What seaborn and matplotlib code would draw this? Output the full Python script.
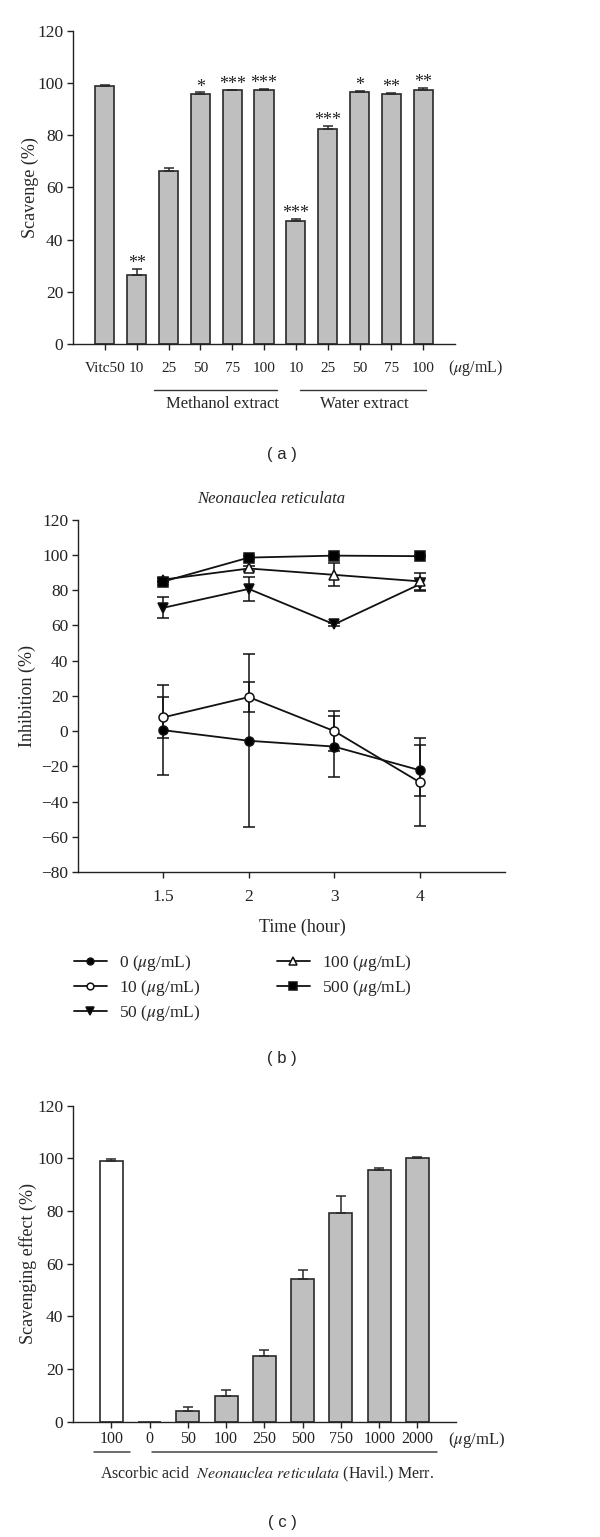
import numpy as np
import pandas as pd
import seaborn as sns
import matplotlib
matplotlib.use("Agg")
import matplotlib.pyplot as plt

# ---------------- data ----------------
# panel (a)
a_groups = ["Vitc"] + ["Methanol"] * 5 + ["Water"] * 5
a_doses = ["Vitc50", "10", "25", "50", "75", "100", "10", "25", "50", "75", "100"]
a_values = [98.8, 26.5, 66.2, 95.9, 97.2, 97.2, 47.2, 82.5, 96.6, 95.9, 97.5]
a_errors = [0.3, 2.4, 1.1, 0.5, 0.3, 0.4, 0.7, 1.0, 0.3, 0.3, 0.6]
a_stars = ["", "**", "", "*", "***", "***", "***", "***", "*", "**", "**"]

# panel (b)
b_times = ["1.5", "2", "3", "4"]
b_series = ["0 ($\\mu$g/mL)", "10 ($\\mu$g/mL)", "50 ($\\mu$g/mL)",
            "100 ($\\mu$g/mL)", "500 ($\\mu$g/mL)"]
b_0 = [0.5, -5.5, -8.8, -22.2]
b_0_err = [25.5, 49.0, 17.4, 14.5]
b_10 = [7.8, 19.3, 0.0, -29.0]
b_10_err = [11.8, 8.5, 11.5, 25.0]
b_50 = [70.0, 80.7, 60.6, 83.3]
b_50_err = [6.0, 6.7, 1.0, 3.5]
b_100 = [86.0, 92.3, 88.7, 85.0]
b_100_err = [1.0, 1.2, 6.5, 5.0]
b_500 = [84.9, 98.5, 99.6, 99.3]
b_500_err = [0.5, 0.8, 0.5, 0.5]

# panel (c)
c_groups = ["Ascorbic acid"] + ["NR"] * 8
c_doses = ["100", "0", "50", "100", "250", "500", "750", "1000", "2000"]
c_values = [99.1, 0.0, 4.1, 9.9, 25.1, 54.3, 79.4, 95.4, 100.3]
c_errors = [0.6, 0.0, 1.4, 2.1, 2.0, 3.3, 6.3, 1.0, 0.4]

# ---------------- style ----------------
sns.set_theme(style="ticks")
plt.rcParams["font.family"] = ["Liberation Serif", "DejaVu Serif"]
plt.rcParams["mathtext.fontset"] = "stix"
plt.rcParams["axes.linewidth"] = 1.0

GREY = "#bfbfbf"
EDGE = "#2a2a2a"

fig = plt.figure(figsize=(6.0, 15.37), dpi=100)
H = 1537.0
W = 600.0


def style_axis(ax, labelsize=12.5):
    sns.despine(ax=ax)
    ax.tick_params(direction="out", length=4, width=1.0, labelsize=labelsize,
                   colors="#222222", pad=3)
    for s in ax.spines.values():
        s.set_color("#222222")


# ---------------- panel (a) ----------------
ax_a = fig.add_axes([73 / W, 1 - 344 / H, 382 / W, 313.2 / H])
df_a = pd.DataFrame({
    "key": [g + d for g, d in zip(a_groups, a_doses)],
    "dose": a_doses, "value": a_values, "err": a_errors,
})
sns.barplot(data=df_a, x="key", y="value", order=list(df_a["key"]),
            color=GREY, edgecolor=EDGE, linewidth=1.2, width=0.6,
            errorbar=None, ax=ax_a, saturation=1)
xa = np.arange(len(df_a))
ax_a.errorbar(xa, df_a["value"], yerr=[np.zeros(len(xa)), df_a["err"]],
              fmt="none", ecolor=EDGE, elinewidth=1.1, capsize=3.5, capthick=1.1)
for i, (v, e, s) in enumerate(zip(a_values, a_errors, a_stars)):
    if s:
        ax_a.text(i, v + e - 1.2, s, ha="center", va="bottom", fontsize=13,
                  color="#222222")
ax_a.set_xlim(-1, 11)
ax_a.set_ylim(0, 120)
ax_a.set_yticks(np.arange(0, 121, 20))
ax_a.set_xticks(xa)
ax_a.set_xticklabels(a_doses)
ax_a.set_xlabel("")
ax_a.set_ylabel("Scavenge (%)", fontsize=13)
ax_a.yaxis.set_label_coords(-0.088, 0.5)
style_axis(ax_a, 12.5)
ax_a.tick_params(axis="x", labelsize=11, pad=9)
tr = ax_a.get_xaxis_transform()
ax_a.text(11.63, -0.077, "($\\mu$g/mL)", transform=tr, ha="center", va="center",
          fontsize=11.5)
ax_a.plot([1.53, 5.41], [-0.147, -0.147], transform=tr, color="#333333",
          lw=1.0, clip_on=False)
ax_a.plot([6.13, 10.09], [-0.147, -0.147], transform=tr, color="#333333",
          lw=1.0, clip_on=False)
ax_a.text(3.71, -0.19, "Methanol extract", transform=tr, ha="center",
          va="center", fontsize=12)
ax_a.text(8.14, -0.19, "Water extract", transform=tr, ha="center",
          va="center", fontsize=12)

fig.text(282 / W, 1 - 454 / H, "( a )", family="Liberation Sans", ha="center",
         va="center", fontsize=12)

# ---------------- panel (b) ----------------
ax_b = fig.add_axes([78 / W, 1 - 872 / H, 427 / W, 352.3 / H])
xb = np.arange(len(b_times))
b_vals = [b_0, b_10, b_50, b_100, b_500]
b_errs = [b_0_err, b_10_err, b_50_err, b_100_err, b_500_err]
markers = ["o", "o", "v", "^", "s"]
faces = ["black", "white", "black", "white", "black"]
msizes = [6.5, 6.5, 7.5, 7, 7.5]
for lab, vals, errs, m, fc, ms in zip(b_series, b_vals, b_errs, markers, faces, msizes):
    ax_b.errorbar(xb, vals, yerr=errs, fmt="none", ecolor="#111111",
                  elinewidth=1.1, capsize=4, capthick=1.1, zorder=2)
    sns.lineplot(x=xb, y=vals, ax=ax_b, color="#111111", lw=1.3, marker=m,
                 markersize=ms, markerfacecolor=fc, markeredgecolor="#111111",
                 markeredgewidth=1.1, label=lab, zorder=3, legend=False)
ax_b.set_xlim(-1, 4)
ax_b.set_ylim(-80, 120)
ax_b.set_yticks(np.arange(-80, 121, 20))
ax_b.set_xticks(xb)
ax_b.set_xticklabels(b_times)
ax_b.set_xlabel("Time (hour)", fontsize=13)
ax_b.xaxis.set_label_coords(0.525, -0.133)
ax_b.set_ylabel("Inhibition (%)", fontsize=13)
ax_b.yaxis.set_label_coords(-0.098, 0.5)
style_axis(ax_b, 12.5)
ax_b.tick_params(axis="x", pad=8)
fig.text(271 / W, 1 - 499 / H, "Neonauclea reticulata", style="italic",
         ha="center", va="center", fontsize=12)

handles = ax_b.get_lines()
handles = [h for h in handles if h.get_label() in b_series]
leg = ax_b.legend(handles=handles, labels=b_series, ncol=2, loc="upper left",
                  bbox_to_anchor=(74 / W, 1 - 953 / H),
                  bbox_transform=fig.transFigure, frameon=False, fontsize=12.5,
                  handlelength=1.9, handletextpad=0.7, columnspacing=4.4,
                  labelspacing=0.3, borderpad=0, borderaxespad=0,
                  markerscale=0.75)

fig.text(282 / W, 1 - 1058 / H, "( b )", family="Liberation Sans", ha="center",
         va="center", fontsize=12)

# ---------------- panel (c) ----------------
ax_c = fig.add_axes([73 / W, 1 - 1421.7 / H, 382.7 / W, 316 / H])
df_c = pd.DataFrame({
    "key": [g + d for g, d in zip(c_groups, c_doses)],
    "group": c_groups, "dose": c_doses, "value": c_values, "err": c_errors,
})
sns.barplot(data=df_c, x="key", y="value", order=list(df_c["key"]),
            hue="group", palette={"Ascorbic acid": "white", "NR": GREY},
            dodge=False, legend=False, edgecolor=EDGE, linewidth=1.2,
            width=0.6, errorbar=None, ax=ax_c, saturation=1)
xc = np.arange(len(df_c))
mask = (df_c["err"] > 0).to_numpy()
ax_c.errorbar(xc[mask], df_c["value"][mask],
              yerr=[np.zeros(mask.sum()), df_c["err"][mask]],
              fmt="none", ecolor=EDGE, elinewidth=1.1, capsize=3.5, capthick=1.1)
ax_c.set_xlim(-1, 9)
ax_c.set_ylim(0, 120)
ax_c.set_yticks(np.arange(0, 121, 20))
ax_c.set_xticks(xc)
ax_c.set_xticklabels(c_doses)
ax_c.set_xlabel("")
ax_c.set_ylabel("Scavenging effect (%)", fontsize=13)
ax_c.yaxis.set_label_coords(-0.094, 0.5)
style_axis(ax_c, 12.5)
ax_c.tick_params(axis="x", labelsize=11.5)
trc = ax_c.get_xaxis_transform()
ax_c.text(9.55, -0.057, "($\\mu$g/mL)", transform=trc, ha="center",
          va="center", fontsize=12)
ax_c.plot([-0.45, 0.49], [-0.095, -0.095], transform=trc, color="#444444",
          lw=1.1, clip_on=False)
ax_c.plot([1.06, 8.52], [-0.095, -0.095], transform=trc, color="#444444",
          lw=1.1, clip_on=False)
ax_c.text(4.06, -0.166,
          "Ascorbic acid  $\\it{Neonauclea\\ reticulata}$ (Havil.) Merr.",
          transform=trc, ha="center", va="center", fontsize=11.5)

fig.text(282 / W, 1 - 1522 / H, "( c )", family="Liberation Sans", ha="center",
         va="center", fontsize=12)

fig.savefig("out.png", dpi=100, facecolor="white")
